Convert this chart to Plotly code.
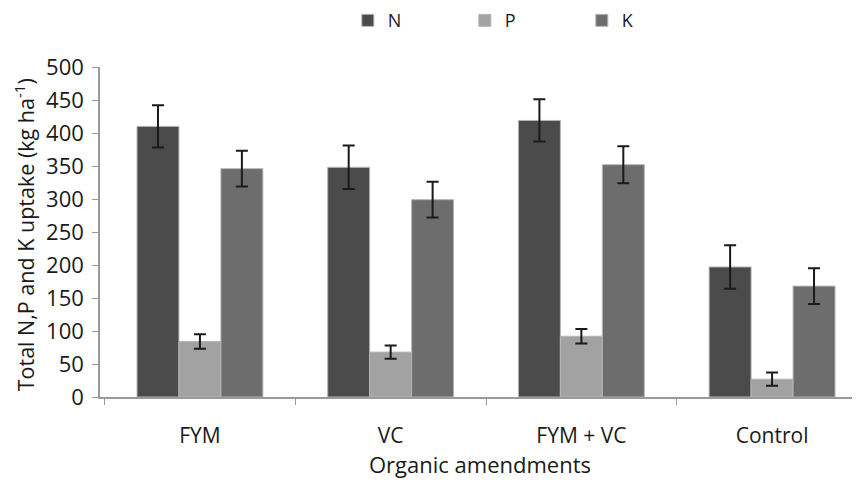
import plotly.graph_objects as go

categories = ["FYM", "VC", "FYM + VC", "Control"]
series_names = ["N", "P", "K"]
n_values = [410, 348, 419, 197]
p_values = [84, 68, 92, 27]
k_values = [346, 299, 352, 168]
n_err = [32, 33, 32, 33]
p_err = [11, 10, 11, 10]
k_err = [27, 27, 28, 27]
colors = ["#4b4b4b", "#a2a2a2", "#6d6d6d"]
y_ticks = list(range(0, 501, 50))

FONT = "'Open Sans', sans-serif"

fig = go.Figure()
for name, vals, errs, col in zip(series_names, [n_values, p_values, k_values],
                                  [n_err, p_err, k_err], colors):
    fig.add_trace(go.Bar(
        x=categories, y=vals, name=name,
        marker=dict(color=col, line=dict(color="#b5b5b5", width=1)),
        error_y=dict(type="data", array=errs, visible=True,
                     color="#1a1a1a", thickness=2, width=6),
    ))

fig.update_layout(
    width=860, height=487,
    margin=dict(l=92, r=8, t=59, b=98, autoexpand=False),
    paper_bgcolor="white", plot_bgcolor="white",
    barmode="group", bargap=0.34, bargroupgap=0,
    font=dict(family=FONT, size=20, color="#1a1a1a"),
    showlegend=True,
    legend=dict(orientation="h", x=0.557, xanchor="center", xref="paper",
                y=0.974, yanchor="middle", yref="container",
                font=dict(size=18), entrywidth=72, entrywidthmode="pixels",
                itemwidth=30, bgcolor="rgba(0,0,0,0)"),
    xaxis=dict(
        range=[-0.524, 3.461],
        showline=True, linecolor="#9a9a9a", linewidth=1.5,
        ticks="outside", tickson="boundaries", ticklen=6, tickcolor="#9a9a9a",
        showgrid=False, zeroline=False, automargin=False,
        tickfont=dict(size=21), ticklabelstandoff=19,
        title=dict(text="Organic amendments", font=dict(size=22), standoff=10),
    ),
    yaxis=dict(
        range=[0, 500], tickvals=y_ticks,
        showline=True, linecolor="#9a9a9a", linewidth=1.5,
        ticks="outside", ticklen=6, tickcolor="#9a9a9a",
        showgrid=False, zeroline=False, automargin=False,
        tickfont=dict(size=22), ticklabelstandoff=4,
    ),
    annotations=[dict(
        text="Total N,P and K uptake (kg ha<sup>-1</sup>)",
        xref="paper", yref="paper", x=-0.1, y=0.49,
        xanchor="center", yanchor="middle", textangle=-90,
        showarrow=False, font=dict(size=21.5),
    )],
)

fig.write_html("out.html")
